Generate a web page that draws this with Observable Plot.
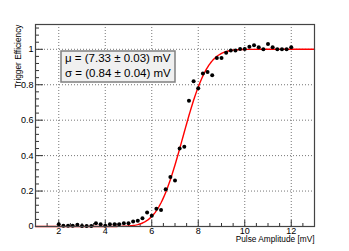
<!DOCTYPE html>
<html>
<head>
<meta charset="utf-8">
<script src="https://cdn.jsdelivr.net/npm/d3@7"></script>
<script src="https://cdn.jsdelivr.net/npm/@observablehq/plot@0.6"></script>
<style>
  html, body { margin: 0; padding: 0; background: #fff; }
  svg { display: block; }
</style>
</head>
<body>
<div id="chart"></div>
<script>
// Measured points (pulse amplitude in mV, trigger efficiency)
const amplitude = [2.0, 2.2, 2.4, 2.6, 2.8, 3.0, 3.2, 3.4, 3.6, 3.8,
                   4.0, 4.2, 4.4, 4.6, 4.8, 5.0, 5.2, 5.4, 5.6, 5.8,
                   6.0, 6.2, 6.4, 6.6, 6.8, 7.0, 7.2, 7.4, 7.6, 7.8,
                   8.0, 8.2, 8.4, 8.6, 8.8, 9.0, 9.2, 9.4, 9.6, 9.8,
                   10.0, 10.2, 10.4, 10.6, 10.8, 11.0, 11.2, 11.4, 11.6, 11.8, 12.0];
const efficiency = [0.013, 0.004, 0.004, 0.004, 0.010, 0.003, 0.003, 0.003, 0.019, 0.012,
                    0.004, 0.012, 0.012, 0.012, 0.019, 0.019, 0.028, 0.032, 0.047, 0.079,
                    0.060, 0.100, 0.093, 0.210, 0.280, 0.260, 0.440, 0.450, 0.710, 0.820,
                    0.780, 0.864, 0.872, 0.853, 0.951, 0.951, 0.981, 0.993, 0.993, 1.002,
                    1.002, 1.015, 1.023, 1.011, 1.000, 1.030, 1.011, 1.000, 1.000, 1.000, 1.011];

// Fit parameters (error function fit)
const mu = 7.33, muErr = 0.03;
const sigma = 0.84, sigmaErr = 0.04;
const fitRange = [1, 13];

// Axis ticks
const xMajor = [2, 4, 6, 8, 10, 12];
const xMinor = [1.5, 2.5, 3, 3.5, 4.5, 5, 5.5, 6.5, 7, 7.5, 8.5, 9, 9.5, 10.5, 11, 11.5, 12.5];
const yMajor = [0, 0.2, 0.4, 0.6, 0.8, 1];
const yMinor = [0.04, 0.08, 0.12, 0.16, 0.24, 0.28, 0.32, 0.36, 0.44, 0.48, 0.52, 0.56,
                0.64, 0.68, 0.72, 0.76, 0.84, 0.88, 0.92, 0.96, 1.04, 1.08, 1.12];
const yLabels = ["0", "0.2", "0.4", "0.6", "0.8", "1"];

const points = amplitude.map((a, i) => ({x: a, y: efficiency[i]}));

function erf(x) {
  const s = Math.sign(x); x = Math.abs(x);
  const t = 1 / (1 + 0.3275911 * x);
  const y = 1 - (((((1.061405429 * t - 1.453152027) * t) + 1.421413741) * t - 0.284496736) * t + 0.254829592) * t * Math.exp(-x * x);
  return s * y;
}
const fitX = d3.range(fitRange[0], fitRange[1] + 1e-9, 0.05);
const fit = fitX.map(x => ({x, y: 0.5 * (1 + erf((x - mu) / (sigma * Math.SQRT2)))}));

const font = "'Liberation Sans', Arial, Helvetica, sans-serif";

const chart = Plot.plot({
  width: 349,
  height: 251,
  marginLeft: 35,
  marginRight: 35,
  marginTop: 24,
  marginBottom: 25,
  style: {fontFamily: font, background: "#fff", color: "#000"},
  x: {domain: [1, 13]},
  y: {domain: [0, 1.14]},
  marks: [
    Plot.gridX(xMajor, {stroke: "#666", strokeOpacity: 1, strokeDasharray: "1,2", strokeWidth: 0.9}),
    Plot.gridY(yMajor, {stroke: "#666", strokeOpacity: 1, strokeDasharray: "1,2", strokeWidth: 0.9}),
    Plot.axisY(yMajor, {anchor: "left", tickSize: -8, tickPadding: 10, tickFormat: (d, i) => yLabels[i], fontSize: 9, label: null, stroke: "#333"}),
    Plot.axisY(yMinor, {anchor: "left", tickSize: -4, tickFormat: () => "", label: null, stroke: "#333"}),
    Plot.axisX(xMajor, {anchor: "bottom", tickSize: -6, tickPadding: 7, tickFormat: d => String(d), fontSize: 9, label: null, stroke: "#333"}),
    Plot.axisX(xMinor, {anchor: "bottom", tickSize: -3, tickFormat: () => "", label: null, stroke: "#333"}),
    Plot.line(fit, {x: "x", y: "y", stroke: "#ff0000", strokeWidth: 1.4}),
    Plot.dot(points, {x: "x", y: "y", r: 2, fill: "#000", stroke: null}),
    Plot.frame({stroke: "#444", strokeWidth: 1.2}),
    Plot.text(["Trigger Efficiency"], {frameAnchor: "top-left", rotate: -90, textAnchor: "end", dx: -20, dy: 0, fontSize: 8.3}),
    Plot.text(["Pulse Amplitude [mV]"], {frameAnchor: "bottom-right", textAnchor: "end", lineAnchor: "top", dy: 10, fontSize: 8.3})
  ]
});

// Fit-result pave box
const svg = d3.select(chart);
const box = svg.append("g").attr("text-anchor", "start");
box.append("rect").attr("x", 61).attr("y", 51).attr("width", 114).attr("height", 31)
  .attr("fill", "#f0f0f0").attr("stroke", "#808080").attr("stroke-width", 1.5);
box.append("text").attr("x", 65).attr("y", 62).attr("font-size", 11.5).attr("font-family", font).attr("fill", "#000")
  .attr("text-anchor", "start")
  .text(`μ = (${mu.toFixed(2)} ± ${muErr.toFixed(2)}) mV`);
box.append("text").attr("x", 65).attr("y", 76.5).attr("font-size", 11.5).attr("font-family", font).attr("fill", "#000")
  .attr("text-anchor", "start")
  .text(`σ = (${sigma.toFixed(2)} ± ${sigmaErr.toFixed(2)}) mV`);

document.getElementById("chart").appendChild(chart);
</script>
</body>
</html>
